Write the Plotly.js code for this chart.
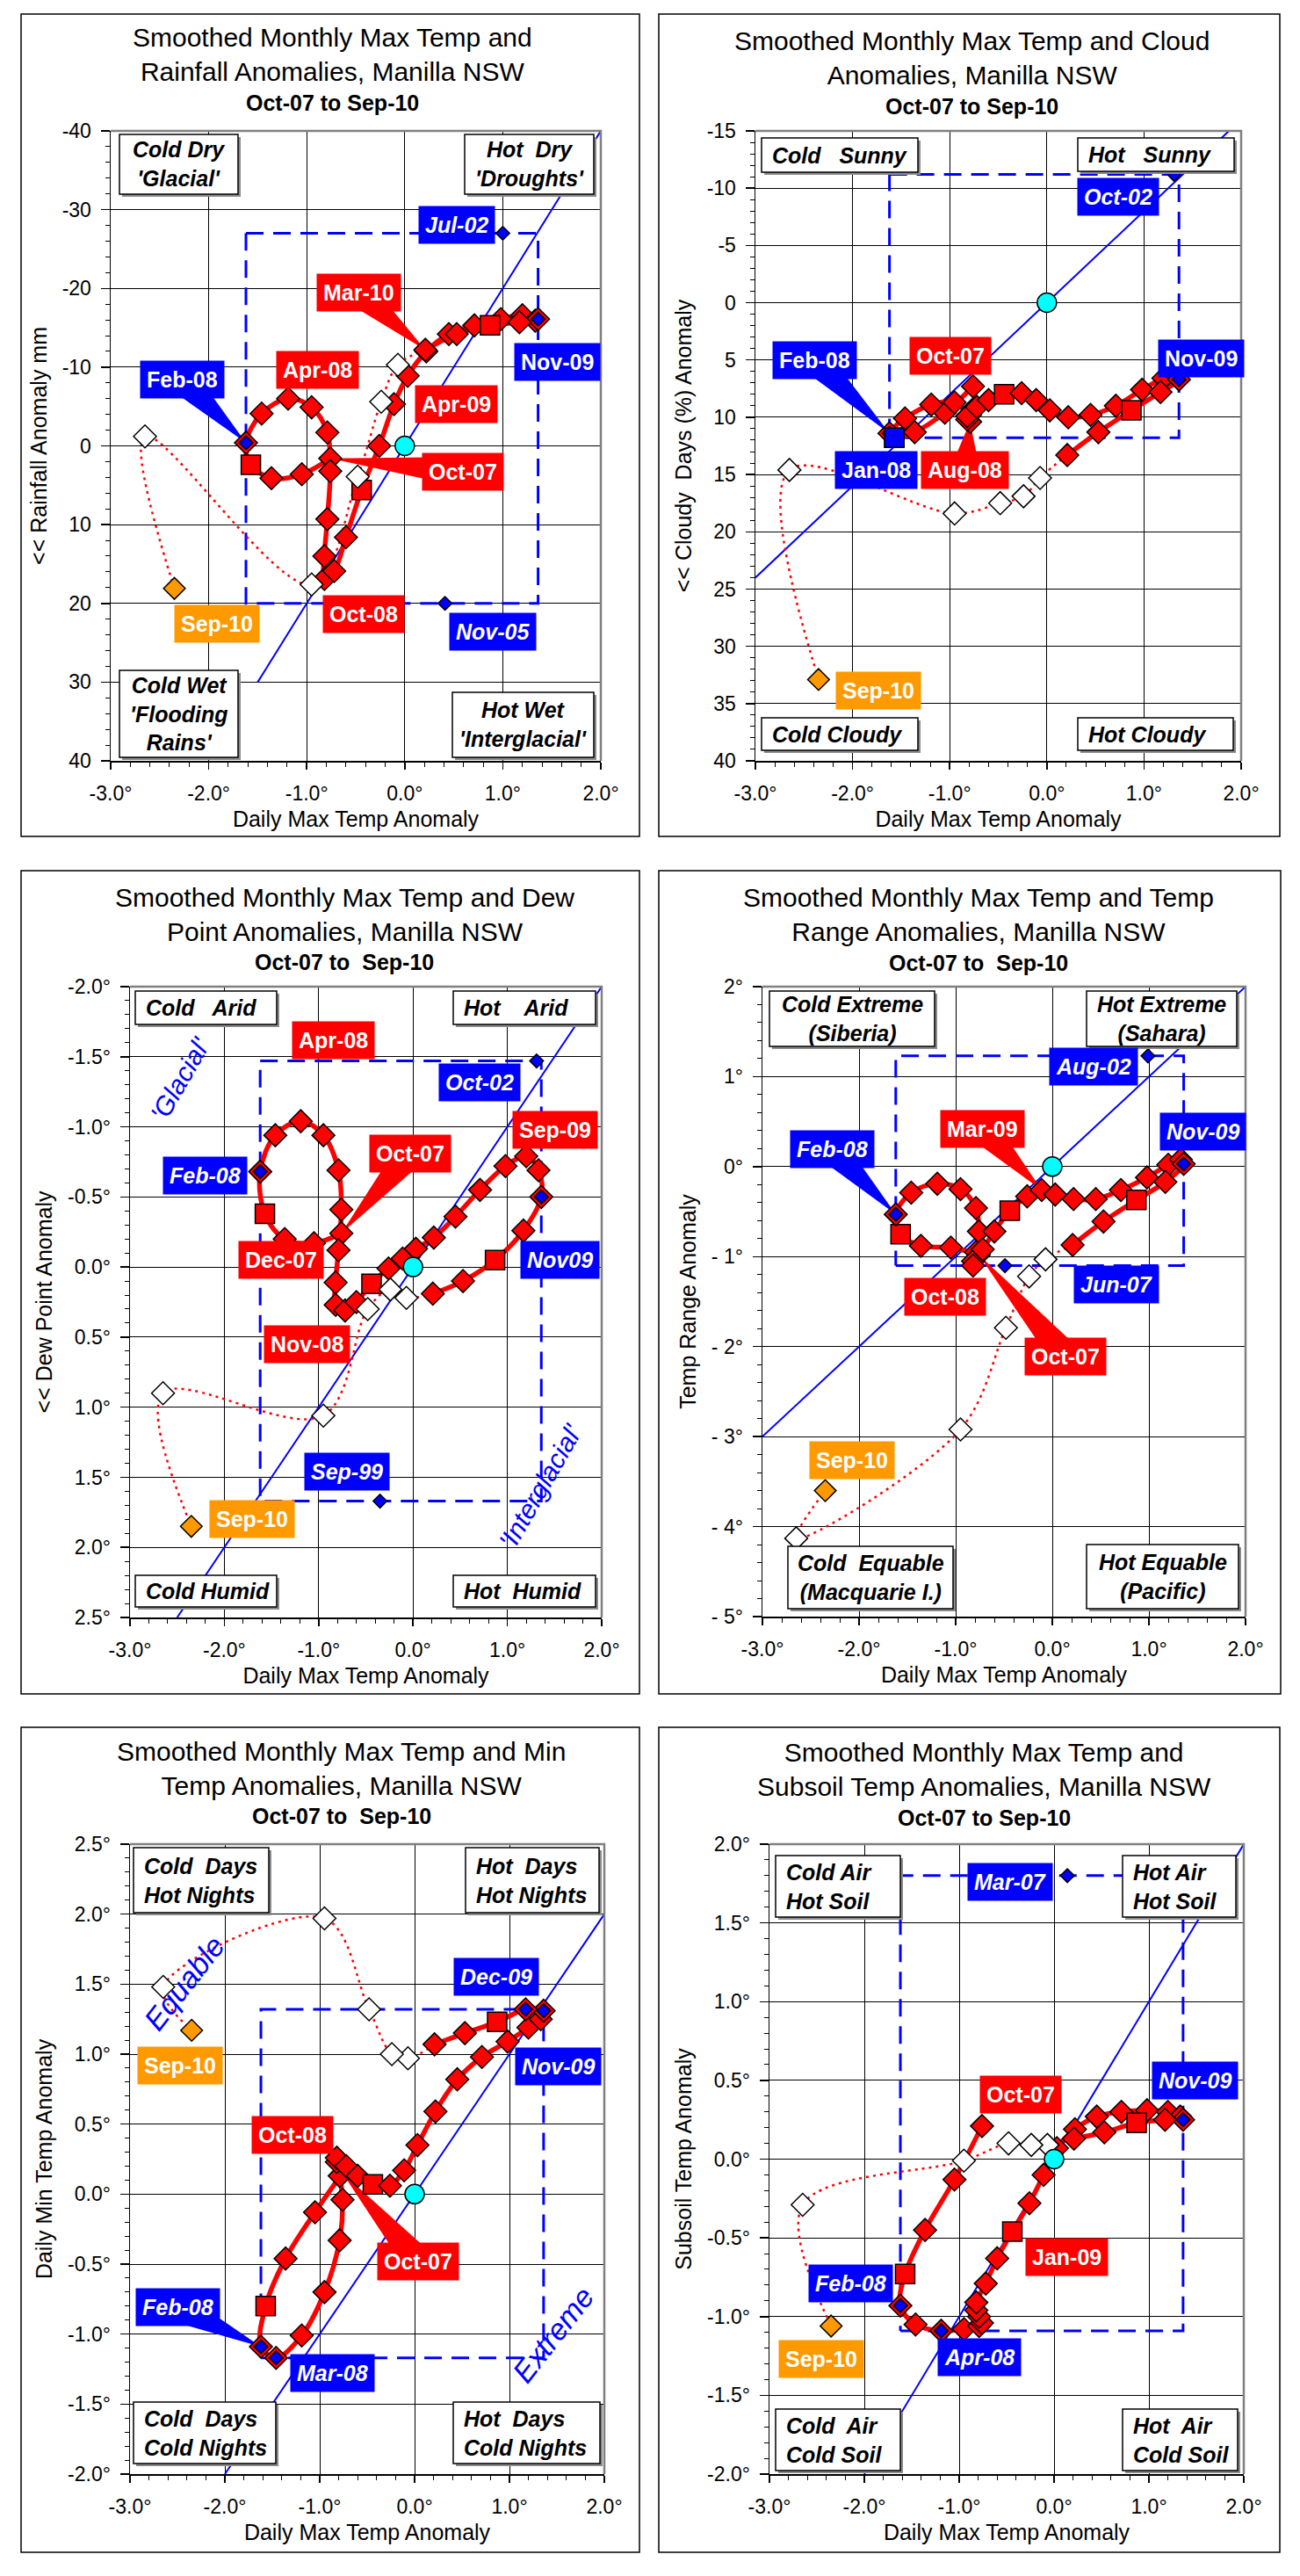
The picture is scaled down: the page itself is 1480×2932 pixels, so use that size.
<!DOCTYPE html>
<html>
<head>
<meta charset="utf-8">
<script src="https://cdn.plot.ly/plotly-3.0.1.min.js"></script>
<style>
html,body{margin:0;padding:0;background:#fff;}
#chart{width:1480px;height:2932px;}
</style>
</head>
<body>
<div id="chart"></div>
<script>
// ================= DATA =================
const months = ['Oct-07','Nov-07','Dec-07','Jan-08','Feb-08','Mar-08','Apr-08','May-08','Jun-08','Jul-08','Aug-08','Sep-08',
  'Oct-08','Nov-08','Dec-08','Jan-09','Feb-09','Mar-09','Apr-09','May-09','Jun-09','Jul-09','Aug-09','Sep-09',
  'Oct-09','Nov-09','Dec-09','Jan-10','Feb-10','Mar-10','Apr-10','May-10','Jun-10','Jul-10','Aug-10','Sep-10'];

// Daily max temp anomaly (shared x of all six charts)
const maxTempAnom = [-0.76,-1.05,-1.36,-1.57,-1.62,-1.46,-1.19,-0.95,-0.79,-0.76,-0.79,-0.82,
  -0.82,-0.72,-0.60,-0.44,-0.26,-0.11,0.03,0.22,0.45,0.71,0.98,1.20,
  1.33,1.36,1.17,0.87,0.53,0.21,-0.07,-0.24,-0.48,-0.95,-2.65,-2.35];

const rainAnom = [1.6,3.6,4.1,2.4,-0.4,-4.1,-6.0,-4.9,-1.7,3.2,9.3,14.0,
  16.9,15.9,11.6,5.6,0.0,-5.3,-8.9,-12.0,-14.2,-15.3,-16.1,-16.6,
  -15.9,-16.1,-15.7,-15.3,-14.2,-12.2,-10.3,-5.6,3.9,17.6,-1.2,18.1];

const cloudAnom = [7.3,9.6,11.3,11.8,11.4,10.1,8.9,8.7,9.8,9.3,10.4,10.2,
  9.9,9.1,8.5,8.0,7.9,8.5,9.4,10.0,9.8,9.0,7.6,6.6,
  6.3,6.7,7.8,9.4,11.3,13.3,15.3,16.9,17.5,18.4,14.6,32.9];

const dewAnom = [-0.24,-0.17,-0.20,-0.38,-0.68,-0.94,-1.04,-0.94,-0.69,-0.41,-0.12,0.11,
  0.27,0.31,0.25,0.12,0.01,-0.06,-0.13,-0.21,-0.36,-0.55,-0.72,-0.79,
  -0.69,-0.50,-0.26,-0.05,0.10,0.19,0.22,0.16,0.30,1.06,0.90,1.85];

const rangeAnom = [-0.98,-0.90,-0.88,-0.75,-0.53,-0.29,-0.19,-0.25,-0.46,-0.72,-0.95,-1.05,
  -1.10,-0.92,-0.72,-0.49,-0.33,-0.26,-0.31,-0.36,-0.36,-0.26,-0.12,0.02,
  0.08,0.03,-0.17,-0.37,-0.61,-0.87,-1.03,-1.22,-1.79,-2.92,-4.13,-3.60];

const minTempAnom = [0.15,-0.13,-0.46,-0.80,-1.09,-1.17,-1.01,-0.70,-0.33,-0.04,0.13,0.23,
  0.26,0.20,0.13,0.07,0.06,0.17,0.35,0.59,0.82,0.98,1.09,1.19,
  1.25,1.31,1.32,1.23,1.15,1.07,0.97,1.00,1.32,1.97,1.48,1.17];

const soilAnom = [0.21,-0.13,-0.45,-0.73,-0.93,-1.05,-1.09,-1.08,-1.06,-1.04,-1.00,-0.96,
  -0.91,-0.79,-0.63,-0.46,-0.28,-0.10,0.07,0.19,0.27,0.30,0.31,0.30,
  0.27,0.25,0.25,0.23,0.17,0.13,0.09,0.09,0.10,-0.01,-0.29,-1.06];

// Record (historical extreme) points
const rainRecLabels = ['Jul-02','Nov-05'];   const rainRecX = [1.00,0.41];   const rainRecY = [-27.0,20.0];
const cloudRecLabels = ['Oct-02','Jan-08'];  const cloudRecX = [1.31,-1.57]; const cloudRecY = [-11.2,11.8];
const dewRecLabels = ['Oct-02','Sep-99'];    const dewRecX = [1.31,-0.35];   const dewRecY = [-1.47,1.67];
const rangeRecLabels = ['Aug-02','Jun-07'];  const rangeRecX = [0.99,-0.49]; const rangeRecY = [1.23,-1.10];
const minRecLabels = ['Dec-09','Mar-08'];    const minRecX = [1.17,-1.46];   const minRecY = [1.32,-1.17];
const soilRecLabels = ['Mar-07','Apr-08'];   const soilRecX = [0.14,-1.19];  const soilRecY = [1.80,-1.09];

// Trend lines
const rainTrendX = [-1.5,2.0];   const rainTrendY = [30,-40];
const cloudTrendX = [-3.0,1.875]; const cloudTrendY = [24,-15];
const dewTrendX = [-2.5,2.0];    const dewTrendY = [2.5,-2.0];
const rangeTrendX = [-3.0,2.0];  const rangeTrendY = [-3.0,2.0];
const minTrendX = [-2.0,2.0];    const minTrendY = [-2.0,2.0];
const soilTrendX = [-2.0,2.0];   const soilTrendY = [-2.0,2.0];
const originX = [0]; const originY = [0];

// Tick labels
const xTickVals = [-3,-2,-1,0,1,2];
const xTickText = ['-3.0°','-2.0°','-1.0°','0.0°','1.0°','2.0°'];
const rainTickVals = [-40,-30,-20,-10,0,10,20,30,40];
const rainTickText = ['-40','-30','-20','-10','0','10','20','30','40'];
const cloudTickVals = [-15,-10,-5,0,5,10,15,20,25,30,35,40];
const cloudTickText = ['-15','-10','-5','0','5','10','15','20','25','30','35','40'];
const dewTickVals = [-2,-1.5,-1,-0.5,0,0.5,1,1.5,2,2.5];
const dewTickText = ['-2.0°','-1.5°','-1.0°','-0.5°','0.0°','0.5°','1.0°','1.5°','2.0°','2.5°'];
const rangeTickVals = [2,1,0,-1,-2,-3,-4,-5];
const rangeTickText = ['2°','1°','0°','- 1°','- 2°','- 3°','- 4°','- 5°'];
const minTickVals = [-2,-1.5,-1,-0.5,0,0.5,1,1.5,2,2.5];
const minTickText = ['-2.0°','-1.5°','-1.0°','-0.5°','0.0°','0.5°','1.0°','1.5°','2.0°','2.5°'];
const soilTickVals = [-2,-1.5,-1,-0.5,0,0.5,1,1.5,2];
const soilTickText = ['-2.0°','-1.5°','-1.0°','-0.5°','0.0°','0.5°','1.0°','1.5°','2.0°'];

// ================= LAYOUT / STYLE =================
const W = 1480, H = 2932;
const FONT = 'Liberation Sans, Arial, Helvetica, sans-serif';
const BLUE = '#0000FF', RED = '#FF0000', ORANGE = '#FF9900', CYAN = '#00FFFF';
const labelBg = {r: RED, b: BLUE, o: ORANGE};
const NB = '\u00a0';

const panels = [
 { box:[24,16,728,952], plot:[126,149,684,866],
   title:'Smoothed Monthly Max Temp and<br>Rainfall Anomalies, Manilla NSW', titleXY:[378,62],
   sub:'Oct-07 to Sep-10', subXY:[378,117],
   yTitle:'&lt;&lt; Rainfall Anomaly mm', yRange:[40,-40], yVals:rainAnom,
   yTickVals:rainTickVals, yTickText:rainTickText, yMinor:2,
   trendX:rainTrendX, trendY:rainTrendY, recX:rainRecX, recY:rainRecY, recSym:['diamond','diamond'],
   labels:[['Feb-08','b',0,-2.27,-8.4,4],['Apr-08','r',0,-0.89,-9.6,-1],['Mar-10','r',0,-0.47,-19.5,29],
     ['Jul-02','b',1,0.53,-28.1,-1],['Nov-09','b',0,1.56,-10.6,-1],['Apr-09','r',0,0.53,-5.3,-1],
     ['Oct-07','r',0,0.59,3.3,0],['Oct-08','r',0,-0.42,21.4,-1],['Sep-10','o',0,-1.92,22.6,-1],['Nov-05','b',1,0.9,23.6,-1]],
   quads:[[136,153,271,221,"Cold Dry<br>'Glacial'",'center'],[529,153,676,221,"Hot"+NB+" Dry<br>'Droughts'",'center'],
     [136,763,271,862,"Cold Wet<br>'Flooding<br>Rains'",'center'],[515,788,676,862,"Hot Wet<br>'Interglacial'",'center']],
   rotated:[] },
 { box:[750,16,1457,952], plot:[860,149,1413,866],
   title:'Smoothed Monthly Max Temp and Cloud<br>Anomalies, Manilla NSW', titleXY:[1106,66],
   sub:'Oct-07 to Sep-10', subXY:[1106,121],
   yTitle:'&lt;&lt; Cloudy'+NB+' Days (%) Anomaly', yRange:[40,-15], yVals:cloudAnom,
   yTickVals:cloudTickVals, yTickText:cloudTickText, yMinor:1,
   trendX:cloudTrendX, trendY:cloudTrendY, recX:cloudRecX, recY:cloudRecY, recSym:['diamond','square'],
   labels:[['Oct-02','b',1,0.73,-9.25,-1],['Feb-08','b',0,-2.39,5.0,4],['Oct-07','r',0,-0.99,4.6,-1],
     ['Nov-09','b',0,1.59,4.9,-1],['Jan-08','b',0,-1.76,14.6,-1],['Aug-08','r',0,-0.84,14.6,10],['Sep-10','o',0,-1.73,33.9,-1]],
   quads:[[867,157,1045,196,'Cold'+NB+NB+' Sunny','left'],[1227,157,1405,195,'Hot'+NB+NB+' Sunny','left'],
     [867,817,1045,854,'Cold Cloudy','left'],[1227,817,1404,854,'Hot Cloudy','left']],
   rotated:[] },
 { box:[24,991,728,1928], plot:[148,1123,685,1841],
   title:'Smoothed Monthly Max Temp and Dew<br>Point Anomalies, Manilla NSW', titleXY:[392,1041],
   sub:'Oct-07 to'+NB+' Sep-10', subXY:[392,1095],
   yTitle:'&lt;&lt; Dew Point Anomaly', yRange:[2.5,-2.0], yVals:dewAnom,
   yTickVals:dewTickVals, yTickText:dewTickText, yMinor:0.1,
   trendX:dewTrendX, trendY:dewTrendY, recX:dewRecX, recY:dewRecY, recSym:['diamond','diamond'],
   labels:[['Apr-08','r',0,-0.84,-1.62,-1],['Oct-02','b',1,0.71,-1.32,-1],['Sep-09','r',0,1.51,-0.98,-1],
     ['Oct-07','r',0,-0.03,-0.81,0],['Feb-08','b',1,-2.2,-0.65,-1],['Dec-07','r',0,-1.4,-0.05,-1],
     ['Nov09','b',1,1.56,-0.05,-1],['Nov-08','r',0,-1.12,0.55,-1],['Sep-99','b',1,-0.70,1.46,-1],['Sep-10','o',0,-1.71,1.8,-1]],
   quads:[[154,1128,315,1166,'Cold'+NB+NB+' Arid','left'],[516,1128,678,1166,'Hot'+NB+NB+NB+' Arid','left'],
     [154,1793,315,1829,'Cold Humid','left'],[516,1793,678,1829,'Hot'+NB+' Humid','left']],
   rotated:[["'Glacial'",-2.47,-1.34,-60,30],["'Interglacial'",1.35,1.56,-60,30]] },
 { box:[750,991,1458,1928], plot:[868,1123,1418,1840],
   title:'Smoothed Monthly Max Temp and Temp<br>Range Anomalies, Manilla NSW', titleXY:[1114,1041],
   sub:'Oct-07 to'+NB+' Sep-10', subXY:[1114,1096],
   yTitle:'Temp Range Anomaly', yRange:[-5,2], yVals:rangeAnom,
   yTickVals:rangeTickVals, yTickText:rangeTickText, yMinor:0.2,
   trendX:rangeTrendX, trendY:rangeTrendY, recX:rangeRecX, recY:rangeRecY, recSym:['diamond','diamond'],
   labels:[['Aug-02','b',1,0.43,1.11,-1],['Feb-08','b',1,-2.28,0.19,4],['Mar-09','r',0,-0.72,0.42,17],
     ['Nov-09','b',1,1.56,0.39,-1],['Oct-08','r',0,-1.11,-1.45,-1],['Jun-07','b',1,0.66,-1.31,-1],
     ['Oct-07','r',0,0.14,-2.11,0],['Sep-10','o',0,-2.07,-3.26,-1]],
   quads:[[876,1128,1064,1191,'Cold Extreme<br>(Siberia)','center'],[1237,1128,1408,1191,'Hot Extreme<br>(Sahara)','center'],
     [897,1760,1085,1831,'Cold'+NB+' Equable<br>(Macquarie I.)','center'],[1237,1758,1410,1831,'Hot Equable<br>(Pacific)','center']],
   rotated:[] },
 { box:[24,1966,728,2905], plot:[148,2099,688,2816],
   title:'Smoothed Monthly Max Temp and Min<br>Temp Anomalies, Manilla NSW', titleXY:[389,2013],
   sub:'Oct-07 to'+NB+' Sep-10', subXY:[389,2067],
   yTitle:'Daily Min Temp Anomaly', yRange:[-2,2.5], yVals:minTempAnom,
   yTickVals:minTickVals, yTickText:minTickText, yMinor:0.1,
   trendX:minTrendX, trendY:minTrendY, recX:minRecX, recY:minRecY, recSym:['diamond','diamond'],
   labels:[['Dec-09','b',1,0.86,1.55,-1],['Nov-09','b',1,1.51,0.91,-1],['Sep-10','o',0,-2.47,0.92,-1],
     ['Oct-08','r',0,-1.29,0.42,-1],['Oct-07','r',0,0.04,-0.48,0],['Feb-08','b',1,-2.5,-0.81,4],['Mar-08','b',1,-0.87,-1.28,-1]],
   quads:[[152,2103,306,2177,'Cold'+NB+' Days<br>Hot Nights','left'],[530,2103,682,2177,'Hot'+NB+' Days<br>Hot Nights','left'],
     [152,2734,314,2804,'Cold'+NB+' Days<br>Cold Nights','left'],[516,2734,683,2804,'Hot'+NB+' Days<br>Cold Nights','left']],
   rotated:[['Equable',-2.43,1.51,-52,34],['Extreme',1.46,-1.0,-52,34]] },
 { box:[750,1966,1457,2905], plot:[876,2099,1416,2816],
   title:'Smoothed Monthly Max Temp and<br>Subsoil Temp Anomalies, Manilla NSW', titleXY:[1120,2014],
   sub:'Oct-07 to Sep-10', subXY:[1120,2069],
   yTitle:'Subsoil Temp Anomaly', yRange:[-2,2], yVals:soilAnom,
   yTickVals:soilTickVals, yTickText:soilTickText, yMinor:0.1,
   trendX:soilTrendX, trendY:soilTrendY, recX:soilRecX, recY:soilRecY, recSym:['diamond','diamond'],
   labels:[['Mar-07','b',1,-0.46,1.76,-1],['Oct-07','r',0,-0.35,0.41,-1],['Nov-09','b',1,1.49,0.50,-1],
     ['Jan-09','r',0,0.13,-0.62,-1],['Feb-08','b',1,-2.14,-0.79,-1],['Apr-08','b',1,-0.79,-1.26,-1],['Sep-10','o',0,-2.45,-1.27,-1]],
   quads:[[883,2112,1025,2182,'Cold Air<br>Hot Soil','left'],[1278,2112,1407,2182,'Hot Air<br>Hot Soil','left'],
     [883,2742,1025,2812,'Cold'+NB+' Air<br>Cold Soil','left'],[1278,2742,1409,2812,'Hot'+NB+' Air<br>Cold Soil','left']],
   rotated:[] }
];

const X_RANGE = [-3, 2];
const iLastSolid = months.indexOf('Mar-10');
const iFeb08 = months.indexOf('Feb-08');
const iNov09 = months.indexOf('Nov-09');
const DIAM = 20, SQ = 22, REC = 12;

function toPix(p, x, y) {
  const [L,T,R,B] = p.plot;
  const yTop = p.yRange[1], yBot = p.yRange[0];
  return [L + (x - X_RANGE[0]) / (X_RANGE[1] - X_RANGE[0]) * (R - L),
          T + (y - yTop) / (yBot - yTop) * (B - T)];
}
function toData(p, px, py) {
  const [L,T,R,B] = p.plot;
  const yTop = p.yRange[1], yBot = p.yRange[0];
  return [X_RANGE[0] + (px - L) / (R - L) * (X_RANGE[1] - X_RANGE[0]),
          yTop + (py - T) / (B - T) * (yBot - yTop)];
}

const traces = [];
const layout = {
  width: W, height: H, margin: {l:0, r:0, t:0, b:0, pad:0},
  paper_bgcolor: '#fff', plot_bgcolor: '#fff', showlegend: false, hovermode: false,
  font: {family: FONT, color: '#000'}, annotations: [], shapes: []
};

panels.forEach((p, i) => {
  const k = i + 1, sx = (k === 1 ? '' : String(k));
  const xa = 'x' + sx, ya = 'y' + sx;
  const [L,T,R,B] = p.plot;

  layout['xaxis' + sx] = {
    domain: [L / W, R / W], anchor: ya, range: X_RANGE, fixedrange: true,
    tickmode: 'array', tickvals: xTickVals, ticktext: xTickText,
    showgrid: true, gridcolor: '#000', gridwidth: 1, zeroline: false,
    showline: true, linecolor: '#000', linewidth: 1.5,
    ticks: 'outside', ticklen: 8, tickwidth: 1.5, tickcolor: '#000',
    minor: {tickmode: 'linear', tick0: -3, dtick: 0.2, ticks: 'outside', ticklen: 5, tickwidth: 1, tickcolor: '#000', showgrid: false},
    tickfont: {family: FONT, size: 23, color: '#000'}, ticklabelstandoff: 8,
    title: {text: 'Daily Max Temp Anomaly', font: {family: FONT, size: 25, color: '#000'}, standoff: 8}
  };
  layout['yaxis' + sx] = {
    domain: [1 - B / H, 1 - T / H], anchor: xa, range: p.yRange, fixedrange: true,
    tickmode: 'array', tickvals: p.yTickVals, ticktext: p.yTickText,
    showgrid: true, gridcolor: '#000', gridwidth: 1, zeroline: false,
    showline: true, linecolor: '#000', linewidth: 1.5,
    ticks: 'outside', ticklen: 10, tickwidth: 1.5, tickcolor: '#000',
    minor: {tickmode: 'linear', tick0: 0, dtick: p.yMinor, ticks: 'outside', ticklen: 5, tickwidth: 1, tickcolor: '#000', showgrid: false},
    tickfont: {family: FONT, size: 23, color: '#000'}, ticklabelstandoff: 6,
    title: {text: p.yTitle, font: {family: FONT, size: 25, color: '#000'}, standoff: 10}
  };

  // panel frame
  layout.shapes.push({type:'rect', xref:'paper', yref:'paper', layer:'below',
    x0: p.box[0]/W, x1: p.box[2]/W, y0: 1 - p.box[3]/H, y1: 1 - p.box[1]/H,
    line:{color:'#000', width:1.5}, fillcolor:'rgba(0,0,0,0)'});
  // plot-area border (grey, top and right)
  layout.shapes.push({type:'path', xref:'paper', yref:'paper', layer:'above',
    path: `M${L/W},${1-T/H} L${R/W},${1-T/H} L${R/W},${1-B/H}`,
    line:{color:'#808080', width:2.5}});

  // data slices
  const solidX = maxTempAnom.slice(0, iLastSolid + 1);
  const solidY = p.yVals.slice(0, iLastSolid + 1);
  const solidM = months.slice(0, iLastSolid + 1);
  const bx0 = Math.min(...solidX), bx1 = Math.max(...solidX);
  const by0 = Math.min(...p.recY), by1 = Math.max(...p.recY);

  // record box
  traces.push({type:'scatter', mode:'lines', xaxis:xa, yaxis:ya,
    x:[bx0,bx1,bx1,bx0,bx0], y:[by0,by0,by1,by1,by0],
    line:{color:BLUE, width:3, dash:'20px,11px'}, hoverinfo:'skip'});
  // trend
  traces.push({type:'scatter', mode:'lines', xaxis:xa, yaxis:ya, x:p.trendX, y:p.trendY,
    line:{color:BLUE, width:2}, hoverinfo:'skip'});
  // dotted tail
  traces.push({type:'scatter', mode:'lines', xaxis:xa, yaxis:ya,
    x: maxTempAnom.slice(iLastSolid), y: p.yVals.slice(iLastSolid),
    line:{color:RED, width:2.5, dash:'3px,5px', shape:'spline', smoothing:1}, hoverinfo:'skip'});

  // callout wedges (filled polygons from label centre to the month's point)
  p.labels.forEach(lb => {
    const [txt, kind, ital, lx, ly, ptr] = lb;
    if (ptr < 0) return;
    const col = labelBg[kind];
    const [lpx, lpy] = toPix(p, lx, ly);
    const [tpx, tpy] = toPix(p, maxTempAnom[ptr], p.yVals[ptr]);
    let dx = tpx - lpx, dy = tpy - lpy; const d = Math.hypot(dx, dy); dx /= d; dy /= d;
    const hw = 17;
    const a = toData(p, lpx - dy * hw, lpy + dx * hw);
    const b = toData(p, lpx + dy * hw, lpy - dx * hw);
    traces.push({type:'scatter', mode:'lines', xaxis:xa, yaxis:ya,
      x:[a[0], b[0], maxTempAnom[ptr], a[0]], y:[a[1], b[1], p.yVals[ptr], a[1]],
      fill:'toself', fillcolor: col, line:{width:0, color: col}, hoverinfo:'skip'});
  });

  // solid path
  traces.push({type:'scatter', mode:'lines+markers', xaxis:xa, yaxis:ya, x: solidX, y: solidY,
    line:{color:RED, width:5.5, shape:'spline', smoothing:1},
    marker:{symbol: solidM.map(m => m.startsWith('Jan') ? 'square' : 'diamond'),
            size: solidM.map(m => m.startsWith('Jan') ? SQ : DIAM), opacity: 1,
            color: RED, line:{color:'#000', width:1.5}}, hoverinfo:'skip'});
  // white tail markers
  traces.push({type:'scatter', mode:'markers', xaxis:xa, yaxis:ya,
    x: maxTempAnom.slice(iLastSolid + 1, months.length - 1), y: p.yVals.slice(iLastSolid + 1, months.length - 1),
    marker:{symbol:'diamond', size:DIAM, opacity:1, color:'#fff', line:{color:'#000', width:1.5}}, hoverinfo:'skip'});
  // latest month (orange)
  traces.push({type:'scatter', mode:'markers', xaxis:xa, yaxis:ya,
    x: [maxTempAnom[months.length - 1]], y: [p.yVals[months.length - 1]],
    marker:{symbol:'diamond', size:DIAM - 1, opacity:1, color:ORANGE, line:{color:'#000', width:1.5}}, hoverinfo:'skip'});
  // record markers (blue)
  const recSym = ['diamond','diamond'].concat(p.recSym);
  traces.push({type:'scatter', mode:'markers', xaxis:xa, yaxis:ya,
    x: [maxTempAnom[iFeb08], maxTempAnom[iNov09]].concat(p.recX),
    y: [p.yVals[iFeb08], p.yVals[iNov09]].concat(p.recY),
    marker:{symbol: recSym, size: recSym.map(s => s === 'square' ? SQ : REC), opacity: 1,
            color: BLUE, line:{color:'#000', width:1.5}},
    hoverinfo:'skip'});
  // origin
  traces.push({type:'scatter', mode:'markers', xaxis:xa, yaxis:ya, x: originX, y: originY,
    marker:{symbol:'circle', size:22, opacity:1, color:CYAN, line:{color:'#000', width:1.5}}, hoverinfo:'skip'});

  // titles
  layout.annotations.push({xref:'paper', yref:'paper', x: p.titleXY[0]/W, y: 1 - p.titleXY[1]/H,
    xanchor:'center', yanchor:'middle', showarrow:false, text: p.title,
    font:{family:FONT, size:30, color:'#000'}});
  layout.annotations.push({xref:'paper', yref:'paper', x: p.subXY[0]/W, y: 1 - p.subXY[1]/H,
    xanchor:'center', yanchor:'middle', showarrow:false, text: '<b>' + p.sub + '</b>',
    font:{family:FONT, size:25, color:'#000'}});

  // callout labels
  p.labels.forEach(lb => {
    const [txt, kind, ital, lx, ly, ptr] = lb;
    layout.annotations.push({xref:xa, yref:ya, x: lx, y: ly, xanchor:'center', yanchor:'middle',
      showarrow:false, text: ital ? '<b><i>' + txt + '</i></b>' : '<b>' + txt + '</b>',
      bgcolor: labelBg[kind], borderpad: 7, font:{family:FONT, size:25, color:'#fff'}});
  });

  // quadrant boxes
  p.quads.forEach(q => {
    const [x0, y0, x1, y1, txt, al] = q;
    layout.shapes.push({type:'rect', xref:'paper', yref:'paper', layer:'above',
      x0:(x0 + 3)/W, x1:(x1 + 3)/W, y0: 1 - (y1 + 3)/H, y1: 1 - (y0 + 3)/H,
      line:{width:0}, fillcolor:'#8c8c8c'});
    layout.shapes.push({type:'rect', xref:'paper', yref:'paper', layer:'above',
      x0:x0/W, x1:x1/W, y0: 1 - y1/H, y1: 1 - y0/H,
      line:{color:'#000', width:1.5}, fillcolor:'#fff'});
    const ann = {xref:'paper', yref:'paper', y: 1 - ((y0 + y1)/2)/H, yanchor:'middle', showarrow:false,
      text: '<b><i>' + txt + '</i></b>', align: al, font:{family:FONT, size:25, color:'#000'}};
    if (al === 'left') { ann.x = (x0 + 10)/W; ann.xanchor = 'left'; }
    else { ann.x = ((x0 + x1)/2)/W; ann.xanchor = 'center'; }
    layout.annotations.push(ann);
  });

  // rotated zone words
  p.rotated.forEach(r => {
    const [txt, rx, ry, ang, fs] = r;
    layout.annotations.push({xref:xa, yref:ya, x: rx, y: ry, xanchor:'center', yanchor:'middle',
      showarrow:false, textangle: ang, text: '<i>' + txt + '</i>', font:{family:FONT, size:fs, color:BLUE}});
  });
});

Plotly.newPlot('chart', traces, layout, {displayModeBar:false, staticPlot:true});
</script>
</body>
</html>
